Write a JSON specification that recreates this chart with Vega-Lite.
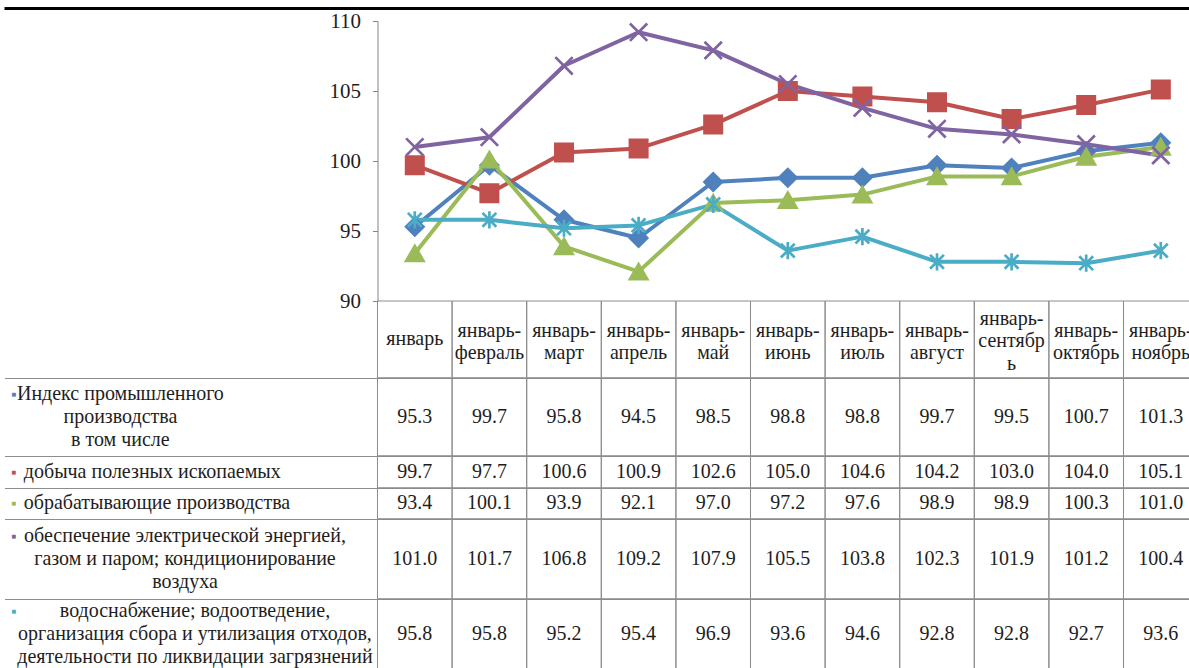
{
  "$schema": "https://vega.github.io/schema/vega-lite/v6.json",
  "background": "white",
  "padding": {"left": 2.5, "top": 6, "right": 0, "bottom": 0},
  "autosize": {"type": "pad"},
  "spacing": 0,
  "bounds": "flush",
  "config": {
    "view": {"stroke": null},
    "text": {"font": "Liberation Serif", "fontSize": 20, "color": "#1e1e1e", "lineHeight": 23, "lineBreak": "\n", "baseline": "middle"}
  },
  "datasets": {
    "vals": [
      {"series": "Индекс", "month": "январь", "value": 95.3},
      {"series": "Индекс", "month": "январь-февраль", "value": 99.7},
      {"series": "Индекс", "month": "январь-март", "value": 95.8},
      {"series": "Индекс", "month": "январь-апрель", "value": 94.5},
      {"series": "Индекс", "month": "январь-май", "value": 98.5},
      {"series": "Индекс", "month": "январь-июнь", "value": 98.8},
      {"series": "Индекс", "month": "январь-июль", "value": 98.8},
      {"series": "Индекс", "month": "январь-август", "value": 99.7},
      {"series": "Индекс", "month": "январь-сентябрь", "value": 99.5},
      {"series": "Индекс", "month": "январь-октябрь", "value": 100.7},
      {"series": "Индекс", "month": "январь-ноябрь", "value": 101.3},
      {"series": "добыча", "month": "январь", "value": 99.7},
      {"series": "добыча", "month": "январь-февраль", "value": 97.7},
      {"series": "добыча", "month": "январь-март", "value": 100.6},
      {"series": "добыча", "month": "январь-апрель", "value": 100.9},
      {"series": "добыча", "month": "январь-май", "value": 102.6},
      {"series": "добыча", "month": "январь-июнь", "value": 105.0},
      {"series": "добыча", "month": "январь-июль", "value": 104.6},
      {"series": "добыча", "month": "январь-август", "value": 104.2},
      {"series": "добыча", "month": "январь-сентябрь", "value": 103.0},
      {"series": "добыча", "month": "январь-октябрь", "value": 104.0},
      {"series": "добыча", "month": "январь-ноябрь", "value": 105.1},
      {"series": "обрабатывающие", "month": "январь", "value": 93.4},
      {"series": "обрабатывающие", "month": "январь-февраль", "value": 100.1},
      {"series": "обрабатывающие", "month": "январь-март", "value": 93.9},
      {"series": "обрабатывающие", "month": "январь-апрель", "value": 92.1},
      {"series": "обрабатывающие", "month": "январь-май", "value": 97.0},
      {"series": "обрабатывающие", "month": "январь-июнь", "value": 97.2},
      {"series": "обрабатывающие", "month": "январь-июль", "value": 97.6},
      {"series": "обрабатывающие", "month": "январь-август", "value": 98.9},
      {"series": "обрабатывающие", "month": "январь-сентябрь", "value": 98.9},
      {"series": "обрабатывающие", "month": "январь-октябрь", "value": 100.3},
      {"series": "обрабатывающие", "month": "январь-ноябрь", "value": 101.0},
      {"series": "электроэнергия", "month": "январь", "value": 101.0},
      {"series": "электроэнергия", "month": "январь-февраль", "value": 101.7},
      {"series": "электроэнергия", "month": "январь-март", "value": 106.8},
      {"series": "электроэнергия", "month": "январь-апрель", "value": 109.2},
      {"series": "электроэнергия", "month": "январь-май", "value": 107.9},
      {"series": "электроэнергия", "month": "январь-июнь", "value": 105.5},
      {"series": "электроэнергия", "month": "январь-июль", "value": 103.8},
      {"series": "электроэнергия", "month": "январь-август", "value": 102.3},
      {"series": "электроэнергия", "month": "январь-сентябрь", "value": 101.9},
      {"series": "электроэнергия", "month": "январь-октябрь", "value": 101.2},
      {"series": "электроэнергия", "month": "январь-ноябрь", "value": 100.4},
      {"series": "водоснабжение", "month": "январь", "value": 95.8},
      {"series": "водоснабжение", "month": "январь-февраль", "value": 95.8},
      {"series": "водоснабжение", "month": "январь-март", "value": 95.2},
      {"series": "водоснабжение", "month": "январь-апрель", "value": 95.4},
      {"series": "водоснабжение", "month": "январь-май", "value": 96.9},
      {"series": "водоснабжение", "month": "январь-июнь", "value": 93.6},
      {"series": "водоснабжение", "month": "январь-июль", "value": 94.6},
      {"series": "водоснабжение", "month": "январь-август", "value": 92.8},
      {"series": "водоснабжение", "month": "январь-сентябрь", "value": 92.8},
      {"series": "водоснабжение", "month": "январь-октябрь", "value": 92.7},
      {"series": "водоснабжение", "month": "январь-ноябрь", "value": 93.6}
    ],
    "months": [
      {"month": "январь", "label": "январь"},
      {"month": "январь-февраль", "label": "январь-\nфевраль"},
      {"month": "январь-март", "label": "январь-\nмарт"},
      {"month": "январь-апрель", "label": "январь-\nапрель"},
      {"month": "январь-май", "label": "январь-\nмай"},
      {"month": "январь-июнь", "label": "январь-\nиюнь"},
      {"month": "январь-июль", "label": "январь-\nиюль"},
      {"month": "январь-август", "label": "январь-\nавгуст"},
      {"month": "январь-сентябрь", "label": "январь-\nсентябр\nь"},
      {"month": "январь-октябрь", "label": "январь-\nоктябрь"},
      {"month": "январь-ноябрь", "label": "январь-\nноябрь"}
    ],
    "rows": [
      {"series": "Индекс", "label": "Индекс промышленного\nпроизводства\nв том числе"},
      {"series": "добыча", "label": "добыча полезных ископаемых"},
      {"series": "обрабатывающие", "label": "обрабатывающие производства"},
      {"series": "электроэнергия", "label": "обеспечение электрической энергией,\nгазом и паром; кондиционирование\nвоздуха"},
      {"series": "водоснабжение", "label": "водоснабжение; водоотведение,\nорганизация сбора и утилизация отходов,\nдеятельности по ликвидации загрязнений"}
    ]
  },
  "vconcat": [
    {
      "width": 1193.6,
      "height": 280,
      "layer": [
        {
          "data": {"name": "vals"},
          "mark": {"type": "line", "strokeWidth": 4, "strokeJoin": "round"},
          "encoding": {
            "x": {"field": "month", "type": "nominal", "axis": null,
              "scale": {"type": "band", "paddingInner": 0, "paddingOuter": 0, "domain": ["p1", "p2", "p3", "p4", "p5", "январь", "январь-февраль", "январь-март", "январь-апрель", "январь-май", "январь-июнь", "январь-июль", "январь-август", "январь-сентябрь", "январь-октябрь", "январь-ноябрь"]}},
            "y": {"field": "value", "type": "quantitative",
              "scale": {"domain": [90, 110], "nice": false, "zero": false},
              "axis": {"orient": "left", "offset": -373, "values": [90, 95, 100, 105, 110], "domainColor": "#868686", "tickColor": "#868686", "tickSize": 5, "labelPadding": 12, "labelFont": "Liberation Serif", "labelFontSize": 21, "labelColor": "#1e1e1e", "grid": false, "title": null}},
            "color": {"field": "series", "type": "nominal", "legend": null,
              "scale": {"domain": ["Индекс", "добыча", "обрабатывающие", "электроэнергия", "водоснабжение"], "range": ["#4F81BD", "#C0504D", "#9BBB59", "#8064A2", "#4BACC6"]}},
            "order": {"value": null}
          }
        },
        {
          "data": {"name": "vals"},
          "mark": {"type": "point", "filled": true, "opacity": 1, "size": 300, "strokeWidth": 2.7},
          "encoding": {
            "x": {"field": "month", "type": "nominal"},
            "y": {"field": "value", "type": "quantitative"},
            "shape": {"field": "series", "type": "nominal", "legend": null,
              "scale": {"domain": ["Индекс", "добыча", "обрабатывающие", "электроэнергия", "водоснабжение"], "range": ["diamond", "square", "triangle-up", "M-1,-1L1,1M-1,1L1,-1", "M0,-1L0,1M-0.8,-0.8L0.8,0.8M-0.8,0.8L0.8,-0.8"]}},
            "fill": {"field": "series", "type": "nominal", "legend": null,
              "scale": {"domain": ["Индекс", "добыча", "обрабатывающие", "электроэнергия", "водоснабжение"], "range": ["#4F81BD", "#C0504D", "#9BBB59", "#8064A2", "#4BACC6"]}},
            "stroke": {"field": "series", "type": "nominal", "legend": null,
              "scale": {"domain": ["Индекс", "добыча", "обрабатывающие", "электроэнергия", "водоснабжение"], "range": ["#4F81BD", "#C0504D", "#9BBB59", "#8064A2", "#4BACC6"]}}
          }
        },
        {
          "data": {"values": [{"edge": "top"}]},
          "mark": {"type": "rule", "color": "#000000", "strokeWidth": 3},
          "encoding": {"y": {"datum": 110.893, "type": "quantitative"}}
        }
      ]
    },
    {
      "width": 1193.6,
      "height": 77,
      "data": {"name": "months"},
      "layer": [
        {
          "mark": {"type": "rect", "filled": false, "color": "#8c8c8c", "stroke": "#8c8c8c", "strokeWidth": 1},
          "encoding": {
            "x": {"field": "month", "type": "nominal",
              "scale": {"type": "band", "paddingInner": 0, "paddingOuter": 0, "domain": ["p1", "p2", "p3", "p4", "p5", "январь", "январь-февраль", "январь-март", "январь-апрель", "январь-май", "январь-июнь", "январь-июль", "январь-август", "январь-сентябрь", "январь-октябрь", "январь-ноябрь"]},
              "axis": {"orient": "bottom", "domain": true, "domainColor": "#8c8c8c", "domainWidth": 1, "labels": false, "ticks": false, "grid": false, "title": null}}
          }
        },
        {
          "transform": [{"filter": "length(split(datum.label, '\\n')) === 1"}],
          "mark": {"type": "text", "dy": 0},
          "encoding": {
            "x": {"field": "month", "type": "nominal"},
            "text": {"field": "label", "type": "nominal"}
          }
        },
        {
          "transform": [{"filter": "length(split(datum.label, '\\n')) === 2"}],
          "mark": {"type": "text", "dy": -9},
          "encoding": {
            "x": {"field": "month", "type": "nominal"},
            "text": {"field": "label", "type": "nominal"}
          }
        },
        {
          "transform": [{"filter": "length(split(datum.label, '\\n')) === 3"}],
          "mark": {"type": "text", "dy": -21},
          "encoding": {
            "x": {"field": "month", "type": "nominal"},
            "text": {"field": "label", "type": "nominal"}
          }
        }
      ]
    },
    {
      "width": 1193.6,
      "height": 78,
      "layer": [
        {
          "data": {"name": "vals"}, "transform": [{"filter": "datum.series === 'Индекс'"}],
          "mark": {"type": "rect", "filled": false, "color": "#8c8c8c", "stroke": "#8c8c8c", "strokeWidth": 1},
          "encoding": {
            "x": {"field": "month", "type": "nominal",
              "scale": {"type": "band", "paddingInner": 0, "paddingOuter": 0, "domain": ["p1", "p2", "p3", "p4", "p5", "январь", "январь-февраль", "январь-март", "январь-апрель", "январь-май", "январь-июнь", "январь-июль", "январь-август", "январь-сентябрь", "январь-октябрь", "январь-ноябрь"]},
              "axis": {"orient": "bottom", "domain": true, "domainColor": "#8c8c8c", "domainWidth": 1, "labels": false, "ticks": false, "grid": false, "title": null}}
          }
        },
        {
          "data": {"name": "vals"}, "transform": [{"filter": "datum.series === 'Индекс'"}],
          "mark": {"type": "text"},
          "encoding": {"x": {"field": "month", "type": "nominal"}, "text": {"field": "value", "type": "quantitative", "format": ".1f"}}
        },
        {
          "data": {"name": "rows"}, "transform": [{"filter": "datum.series === 'Индекс'"}],
          "mark": {"type": "text", "align": "center", "dx": 4, "dy": -23},
          "encoding": {"x": {"datum": "p2", "type": "nominal"}, "text": {"field": "label", "type": "nominal"}}
        },
        {
          "data": {"name": "rows"}, "transform": [{"filter": "datum.series === 'Индекс'"}],
          "mark": {"type": "text", "text": "■", "font": "DejaVu Sans", "fontSize": 5, "color": "#4F81BD", "dx": -28, "dy": -23},
          "encoding": {"x": {"datum": "p1", "type": "nominal"}}
        }
      ]
    },
    {
      "width": 1193.6,
      "height": 32,
      "layer": [
        {
          "data": {"name": "vals"}, "transform": [{"filter": "datum.series === 'добыча'"}],
          "mark": {"type": "rect", "filled": false, "color": "#8c8c8c", "stroke": "#8c8c8c", "strokeWidth": 1},
          "encoding": {
            "x": {"field": "month", "type": "nominal",
              "scale": {"type": "band", "paddingInner": 0, "paddingOuter": 0, "domain": ["p1", "p2", "p3", "p4", "p5", "январь", "январь-февраль", "январь-март", "январь-апрель", "январь-май", "январь-июнь", "январь-июль", "январь-август", "январь-сентябрь", "январь-октябрь", "январь-ноябрь"]},
              "axis": {"orient": "bottom", "domain": true, "domainColor": "#8c8c8c", "domainWidth": 1, "labels": false, "ticks": false, "grid": false, "title": null}}
          }
        },
        {
          "data": {"name": "vals"}, "transform": [{"filter": "datum.series === 'добыча'"}],
          "mark": {"type": "text"},
          "encoding": {"x": {"field": "month", "type": "nominal"}, "text": {"field": "value", "type": "quantitative", "format": ".1f"}}
        },
        {
          "data": {"name": "rows"}, "transform": [{"filter": "datum.series === 'добыча'"}],
          "mark": {"type": "text", "align": "left", "dx": -18},
          "encoding": {"x": {"datum": "p1", "type": "nominal"}, "text": {"field": "label", "type": "nominal"}}
        },
        {
          "data": {"name": "rows"}, "transform": [{"filter": "datum.series === 'добыча'"}],
          "mark": {"type": "text", "text": "■", "font": "DejaVu Sans", "fontSize": 5, "color": "#C0504D", "dx": -28, "dy": 0},
          "encoding": {"x": {"datum": "p1", "type": "nominal"}}
        }
      ]
    },
    {
      "width": 1193.6,
      "height": 31,
      "layer": [
        {
          "data": {"name": "vals"}, "transform": [{"filter": "datum.series === 'обрабатывающие'"}],
          "mark": {"type": "rect", "filled": false, "color": "#8c8c8c", "stroke": "#8c8c8c", "strokeWidth": 1},
          "encoding": {
            "x": {"field": "month", "type": "nominal",
              "scale": {"type": "band", "paddingInner": 0, "paddingOuter": 0, "domain": ["p1", "p2", "p3", "p4", "p5", "январь", "январь-февраль", "январь-март", "январь-апрель", "январь-май", "январь-июнь", "январь-июль", "январь-август", "январь-сентябрь", "январь-октябрь", "январь-ноябрь"]},
              "axis": {"orient": "bottom", "domain": true, "domainColor": "#8c8c8c", "domainWidth": 1, "labels": false, "ticks": false, "grid": false, "title": null}}
          }
        },
        {
          "data": {"name": "vals"}, "transform": [{"filter": "datum.series === 'обрабатывающие'"}],
          "mark": {"type": "text"},
          "encoding": {"x": {"field": "month", "type": "nominal"}, "text": {"field": "value", "type": "quantitative", "format": ".1f"}}
        },
        {
          "data": {"name": "rows"}, "transform": [{"filter": "datum.series === 'обрабатывающие'"}],
          "mark": {"type": "text", "align": "left", "dx": -18},
          "encoding": {"x": {"datum": "p1", "type": "nominal"}, "text": {"field": "label", "type": "nominal"}}
        },
        {
          "data": {"name": "rows"}, "transform": [{"filter": "datum.series === 'обрабатывающие'"}],
          "mark": {"type": "text", "text": "■", "font": "DejaVu Sans", "fontSize": 5, "color": "#9BBB59", "dx": -28, "dy": 0},
          "encoding": {"x": {"datum": "p1", "type": "nominal"}}
        }
      ]
    },
    {
      "width": 1193.6,
      "height": 80,
      "layer": [
        {
          "data": {"name": "vals"}, "transform": [{"filter": "datum.series === 'электроэнергия'"}],
          "mark": {"type": "rect", "filled": false, "color": "#8c8c8c", "stroke": "#8c8c8c", "strokeWidth": 1},
          "encoding": {
            "x": {"field": "month", "type": "nominal",
              "scale": {"type": "band", "paddingInner": 0, "paddingOuter": 0, "domain": ["p1", "p2", "p3", "p4", "p5", "январь", "январь-февраль", "январь-март", "январь-апрель", "январь-май", "январь-июнь", "январь-июль", "январь-август", "январь-сентябрь", "январь-октябрь", "январь-ноябрь"]},
              "axis": {"orient": "bottom", "domain": true, "domainColor": "#8c8c8c", "domainWidth": 1, "labels": false, "ticks": false, "grid": false, "title": null}}
          }
        },
        {
          "data": {"name": "vals"}, "transform": [{"filter": "datum.series === 'электроэнергия'"}],
          "mark": {"type": "text"},
          "encoding": {"x": {"field": "month", "type": "nominal"}, "text": {"field": "value", "type": "quantitative", "format": ".1f"}}
        },
        {
          "data": {"name": "rows"}, "transform": [{"filter": "datum.series === 'электроэнергия'"}],
          "mark": {"type": "text", "align": "center", "dx": -6, "dy": -23},
          "encoding": {"x": {"datum": "p3", "type": "nominal"}, "text": {"field": "label", "type": "nominal"}}
        },
        {
          "data": {"name": "rows"}, "transform": [{"filter": "datum.series === 'электроэнергия'"}],
          "mark": {"type": "text", "text": "■", "font": "DejaVu Sans", "fontSize": 5, "color": "#8064A2", "dx": -28, "dy": -23},
          "encoding": {"x": {"datum": "p1", "type": "nominal"}}
        }
      ]
    },
    {
      "width": 1193.6,
      "height": 70,
      "layer": [
        {
          "data": {"name": "vals"}, "transform": [{"filter": "datum.series === 'водоснабжение'"}],
          "mark": {"type": "rect", "filled": false, "color": "#8c8c8c", "stroke": "#8c8c8c", "strokeWidth": 1},
          "encoding": {
            "x": {"field": "month", "type": "nominal",
              "scale": {"type": "band", "paddingInner": 0, "paddingOuter": 0, "domain": ["p1", "p2", "p3", "p4", "p5", "январь", "январь-февраль", "январь-март", "январь-апрель", "январь-май", "январь-июнь", "январь-июль", "январь-август", "январь-сентябрь", "январь-октябрь", "январь-ноябрь"]},
              "axis": {"orient": "bottom", "domain": false, "labels": false, "ticks": false, "grid": false, "title": null}}
          }
        },
        {
          "data": {"name": "vals"}, "transform": [{"filter": "datum.series === 'водоснабжение'"}],
          "mark": {"type": "text"},
          "encoding": {"x": {"field": "month", "type": "nominal"}, "text": {"field": "value", "type": "quantitative", "format": ".1f"}}
        },
        {
          "data": {"name": "rows"}, "transform": [{"filter": "datum.series === 'водоснабжение'"}],
          "mark": {"type": "text", "align": "center", "dx": 4, "dy": -23},
          "encoding": {"x": {"datum": "p3", "type": "nominal"}, "text": {"field": "label", "type": "nominal"}}
        },
        {
          "data": {"name": "rows"}, "transform": [{"filter": "datum.series === 'водоснабжение'"}],
          "mark": {"type": "text", "text": "■", "font": "DejaVu Sans", "fontSize": 5, "color": "#4BACC6", "dx": -28, "dy": -23},
          "encoding": {"x": {"datum": "p1", "type": "nominal"}}
        }
      ]
    }
  ]
}
